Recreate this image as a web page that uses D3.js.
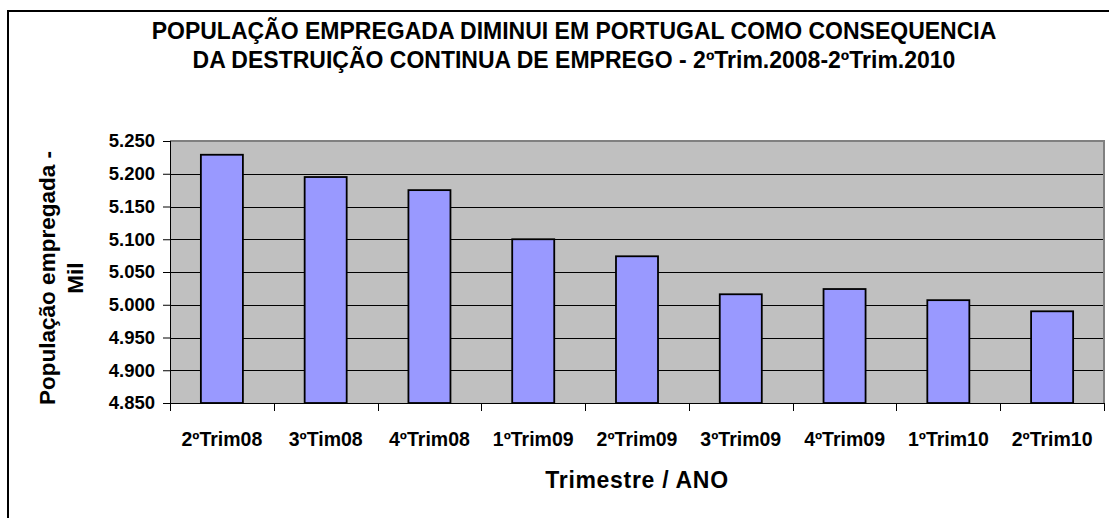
<!DOCTYPE html>
<html>
<head>
<meta charset="utf-8">
<script src="https://cdn.jsdelivr.net/npm/d3@7"></script>
<style>
  body { margin: 0; background: #fff; }
  text { font-family: "Liberation Sans", Arial, sans-serif; font-weight: bold; fill: #000; }
</style>
</head>
<body>
<div id="chart"></div>
<script>
// Chart data - employed population (thousands)
const categories = ["2ºTrim08", "3ºTim08", "4ºTrim08", "1ºTrim09", "2ºTrim09", "3ºTrim09", "4ºTrim09", "1ºTrim10", "2ºTrim10"];
const values = [5229, 5195, 5175, 5100, 5074, 5016, 5024, 5007, 4990];
const yTicks = [4850, 4900, 4950, 5000, 5050, 5100, 5150, 5200, 5250];
const titleLines = ["POPULAÇÃO EMPREGADA DIMINUI EM PORTUGAL COMO CONSEQUENCIA", "DA DESTRUIÇÃO CONTINUA DE EMPREGO - 2ºTrim.2008-2ºTrim.2010"];
const yTitleLines = ["População empregada -", "Mil"];
const xTitle = "Trimestre / ANO";

const [w, h] = [1109, 518];
const plot = {left: 170, right: 1104, top: 141, bottom: 403};

const pt = d3.formatLocale({decimal: ",", thousands: ".", grouping: [3], currency: ["", ""]});
const fmt = pt.format(",d");

const svg = d3.select("#chart").append("svg")
  .attr("width", w)
  .attr("height", h);

svg.append("rect").attr("width", w).attr("height", h).attr("fill", "#fff");

// outer chart border (runs off the right / bottom edge)
svg.append("rect")
  .attr("x", 8).attr("y", 11)
  .attr("width", w + 20).attr("height", h + 20)
  .attr("fill", "none").attr("stroke", "#000").attr("stroke-width", 2);

// scales
const xOuter = d3.scaleBand().domain(categories).range([plot.left, plot.right]).padding(0);
const xBar = d3.scaleBand().domain(categories).range([plot.left, plot.right])
  .paddingInner(0.595).paddingOuter(0.2975);
const yScale = d3.scaleLinear().domain([4850, 5250]).range([plot.bottom, plot.top]);

// plot area background
svg.append("rect")
  .attr("x", plot.left).attr("y", plot.top)
  .attr("width", plot.right - plot.left).attr("height", plot.bottom - plot.top)
  .attr("fill", "#c0c0c0");

// gridlines
svg.append("g").selectAll("line")
  .data(yTicks.filter(t => t > 4850 && t < 5250))
  .enter().append("line")
  .attr("x1", plot.left).attr("x2", plot.right)
  .attr("y1", d => Math.round(yScale(d)) + 0.5).attr("y2", d => Math.round(yScale(d)) + 0.5)
  .attr("stroke", "#000").attr("stroke-width", 1);

// plot border top / right
svg.append("path")
  .attr("d", `M${plot.left},${plot.top}H${plot.right}V${plot.bottom}`)
  .attr("fill", "none").attr("stroke", "#808080").attr("stroke-width", 2);

// bars
svg.append("g").selectAll("rect")
  .data(values)
  .enter().append("rect")
  .attr("x", (d, i) => xBar(categories[i]))
  .attr("y", d => yScale(d))
  .attr("width", xBar.bandwidth())
  .attr("height", d => plot.bottom - yScale(d))
  .attr("fill", "#9999ff")
  .attr("stroke", "#000")
  .attr("stroke-width", 1.8);

// y axis
const yAxis = d3.axisLeft(yScale).tickValues(yTicks).tickFormat(fmt).tickSize(7).tickPadding(8);
const gy = svg.append("g")
  .attr("transform", `translate(${plot.left},0)`)
  .call(yAxis);
gy.select(".domain").attr("stroke", "#000").attr("d", `M0.5,${plot.top}V${plot.bottom}`);
gy.selectAll(".tick line").attr("stroke", "#000");
gy.selectAll("text").style("font-size", "18.5px").attr("font-family", null);

// x axis: labels centred on bands, ticks between categories
const xAxis = d3.axisBottom(xOuter).tickSize(0).tickPadding(29);
const gx = svg.append("g")
  .attr("transform", `translate(0,${plot.bottom})`)
  .call(xAxis);
gx.select(".domain").attr("stroke", "#000").attr("d", `M${plot.left},0.5H${plot.right}`);
gx.selectAll("text").style("font-size", "19.5px").attr("font-family", null);

svg.append("g").selectAll("line")
  .data(categories.map(c => xOuter(c)).concat([plot.right]))
  .enter().append("line")
  .attr("x1", d => Math.round(d) + 0.5).attr("x2", d => Math.round(d) + 0.5)
  .attr("y1", plot.bottom).attr("y2", plot.bottom + 8)
  .attr("stroke", "#000");

// title
svg.append("g").selectAll("text")
  .data(titleLines)
  .enter().append("text")
  .attr("x", 574)
  .attr("y", (d, i) => 39 + i * 29)
  .attr("text-anchor", "middle")
  .style("font-size", "23px")
  .text(d => d);

// y axis title
svg.append("g").selectAll("text")
  .data(yTitleLines)
  .enter().append("text")
  .attr("transform", (d, i) => `translate(${55 + i * 28},278) rotate(-90)`)
  .attr("text-anchor", "middle")
  .style("font-size", "22.5px")
  .text(d => d);

// x axis title
svg.append("text")
  .attr("x", 637)
  .attr("y", 488)
  .attr("text-anchor", "middle")
  .style("font-size", "23px")
  .style("letter-spacing", "0.7px")
  .text(xTitle);
</script>
</body>
</html>
